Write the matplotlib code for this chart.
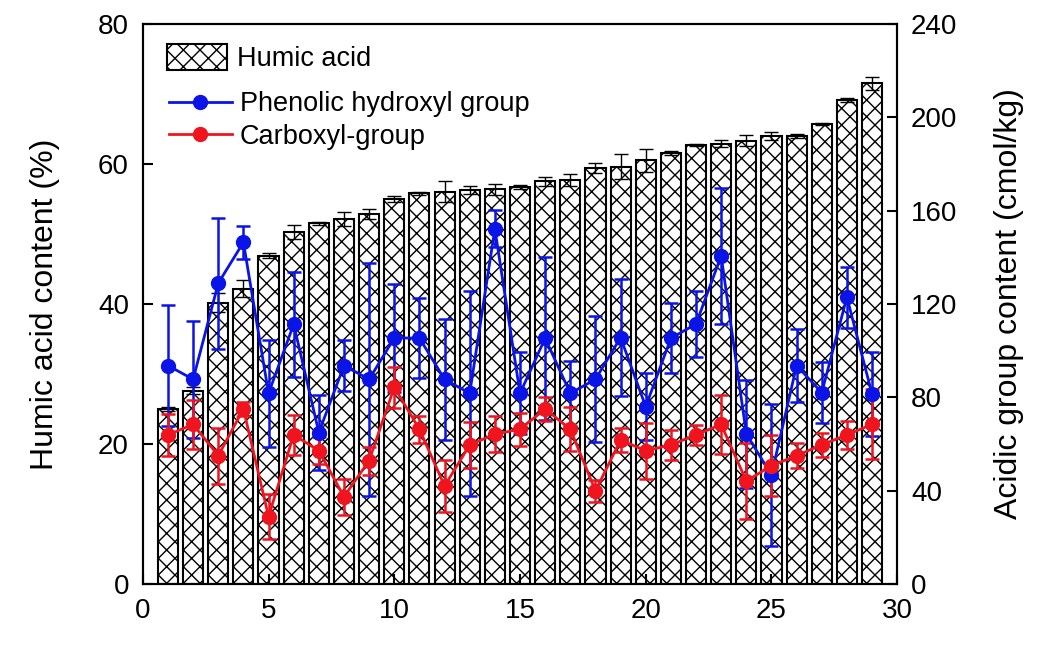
import numpy as np
import matplotlib.pyplot as plt

plt.rcParams['font.family'] = ['Liberation Sans', 'DejaVu Sans']
plt.rcParams['hatch.linewidth'] = 1.0

samples = np.arange(1, 30)

humic = [25.0, 27.6, 40.2, 42.2, 46.9, 50.3, 51.5, 52.1, 52.9, 55.0,
         55.8, 56.0, 56.3, 56.4, 56.7, 57.5, 57.7, 59.4, 59.6, 60.5,
         61.6, 62.7, 62.9, 63.3, 64.0, 64.0, 65.7, 69.1, 71.5]
humic_err = [0.3, 0.5, 1.3, 1.2, 0.4, 1.0, 0.2, 1.0, 0.7, 0.4,
             0.2, 1.5, 0.6, 0.8, 0.3, 0.7, 0.9, 0.7, 1.8, 1.7,
             0.3, 0.2, 0.5, 0.8, 0.6, 0.3, 0.1, 0.3, 0.9]

phenolic = [93.6, 87.7, 128.9, 146.4, 81.7, 111.3, 64.9, 93.6, 87.7, 105.4,
            105.4, 87.7, 81.7, 152.2, 81.7, 105.3, 81.7, 87.7, 105.6, 76.0,
            105.3, 111.4, 140.6, 64.3, 46.7, 93.6, 82.0, 122.9, 81.4]
phenolic_err = [26, 25, 28, 7, 23, 22.5, 16, 11, 50, 23,
                17, 26, 44, 8, 17.5, 35, 14, 27, 25, 14.5,
                15, 14, 29, 23, 30.5, 15.5, 13, 13, 18]

carboxyl = [63.9, 68.4, 55.0, 75.0, 28.9, 63.9, 57.1, 37.4, 52.9, 84.3,
            66.3, 42.0, 59.6, 64.2, 66.3, 75.0, 66.3, 39.9, 61.7, 57.1,
            59.6, 63.9, 68.4, 44.1, 50.7, 55.0, 59.6, 63.9, 68.4]
carboxyl_err = [9, 10.5, 12, 3, 9.6, 8.7, 5.7, 7.8, 6, 8.8,
                5.7, 11, 10, 7.7, 7, 5.3, 9.5, 4.6, 5, 12,
                6.5, 4.3, 12.5, 16.4, 13.2, 5.5, 5.2, 6, 15]

fig = plt.figure(figsize=(10.58, 6.46), dpi=100)
ax = fig.add_axes([0.135, 0.096, 0.713, 0.867])

bars = ax.bar(samples, humic, width=0.8, color='white', edgecolor='black',
              linewidth=1.5, hatch='xx', label='Humic acid')
ax.errorbar(samples, humic, yerr=humic_err, fmt='none', ecolor='black',
            elinewidth=1, capsize=5, capthick=1)

ax.set_xlim(0, 30)
ax.set_ylim(0, 80)
ax.set_xticks([0, 5, 10, 15, 20, 25, 30])
ax.set_yticks([0, 20, 40, 60, 80])
ax.set_ylabel('Humic acid content (%)', fontsize=23, labelpad=27)
ax.tick_params(direction='in', labelsize=20, length=7, width=1.5, pad=10)

ax2 = ax.twinx()
l1 = ax2.errorbar(samples, phenolic, yerr=phenolic_err, color='#0a14e6',
                  marker='o', markersize=10, linewidth=2, elinewidth=1.8,
                  capsize=5, capthick=1.8, label='Phenolic hydroxyl group')
l2 = ax2.errorbar(samples, carboxyl, yerr=carboxyl_err, color='#f0141e',
                  marker='o', markersize=10, linewidth=2, elinewidth=1.8,
                  capsize=5, capthick=1.8, label='Carboxyl-group')
ax2.set_ylim(0, 240)
ax2.set_yticks([0, 40, 80, 120, 160, 200, 240])
ax2.set_ylabel('Acidic group content (cmol/kg)', fontsize=23, labelpad=26)
ax2.tick_params(direction='in', labelsize=20, length=7, width=1.5, pad=10)

for a in (ax, ax2):
    for s in a.spines.values():
        s.set_linewidth(1.5)

# two legends: bar entry sits a bit apart from the line entries
leg1 = ax2.legend([bars], ['Humic acid'], loc='upper left',
                  bbox_to_anchor=(0.032, 0.964), frameon=False, fontsize=19.5,
                  handlelength=2.2, handleheight=1.07, handletextpad=0.37,
                  borderpad=0, borderaxespad=0)
ax2.add_artist(leg1)
ax2.legend([l1[0], l2[0]], ['Phenolic hydroxyl group', 'Carboxyl-group'],
           loc='upper left', bbox_to_anchor=(0.0345, 0.88), frameon=False,
           fontsize=19.5, handlelength=2.33, handletextpad=0.3,
           labelspacing=0.25, borderpad=0, borderaxespad=0)

fig.savefig('out.png', dpi=100)
